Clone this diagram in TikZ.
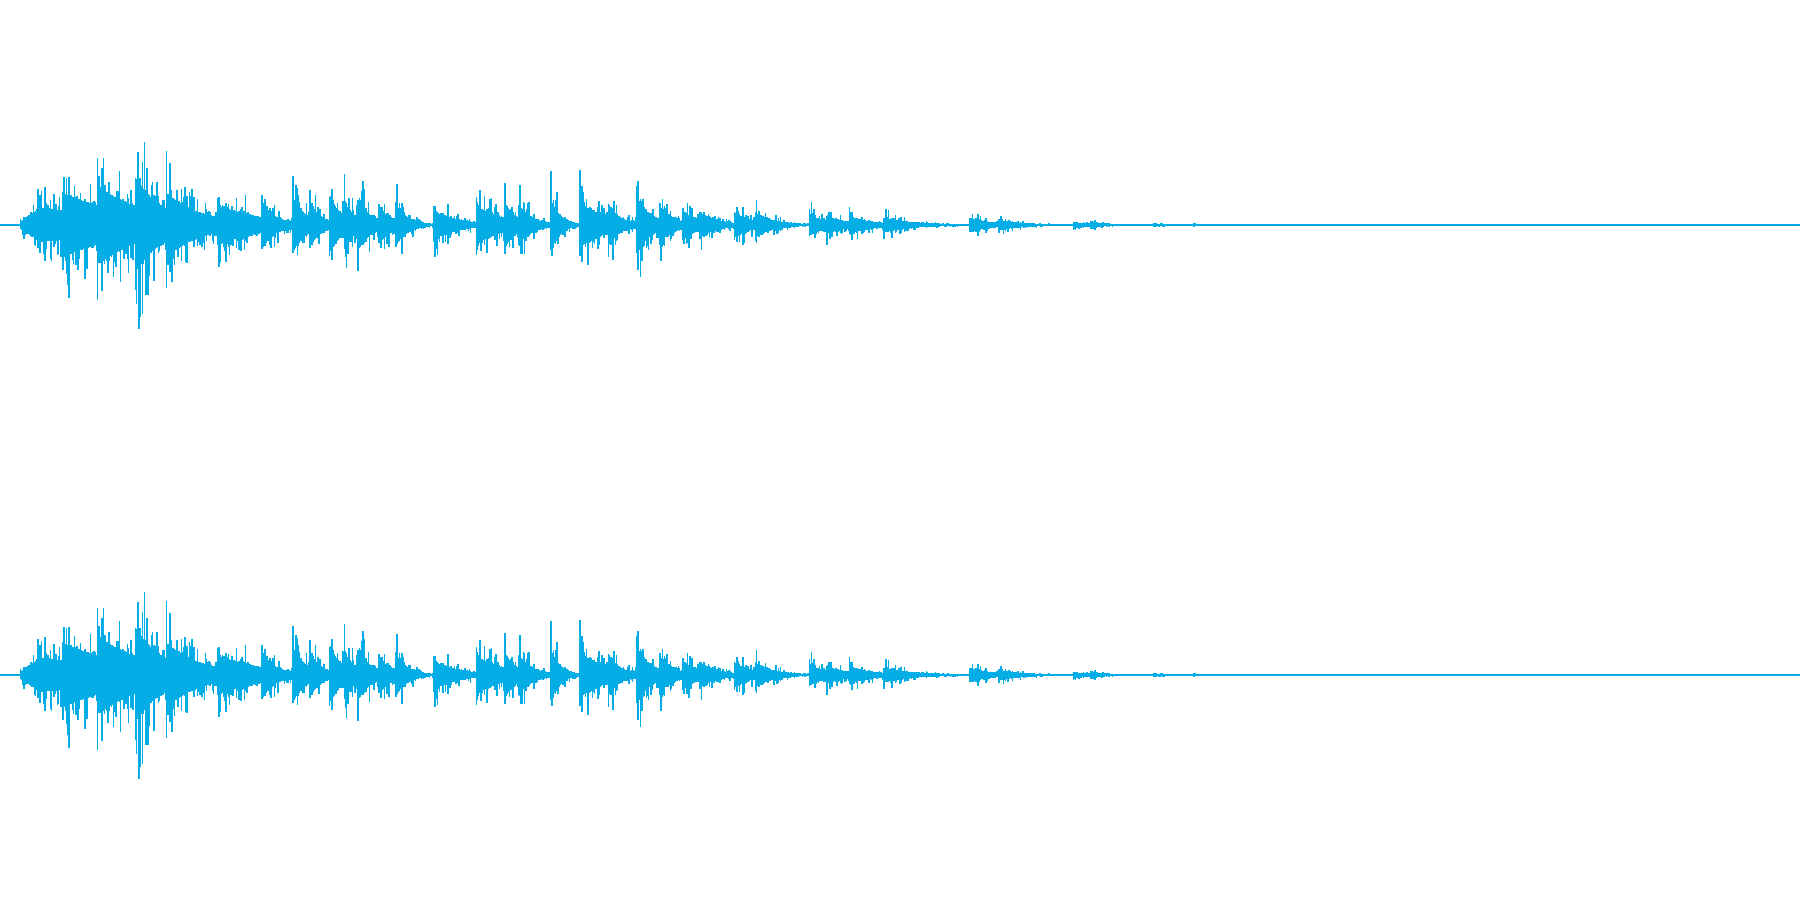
\documentclass[tikz,border=0pt]{standalone}
\definecolor{wave}{HTML}{05ADE6}
\begin{document}
\begin{tikzpicture}[x=0.011480cm,y=-0.011480cm,wv/.style={draw=wave,line width=0.45pt}]
\useasboundingbox (0,0) rectangle (1568,784);
\fill[white] (0,0) rectangle (1568,784);
\pgfmathsetseed{7}
\draw[wv,line width=0.35pt] (0,196) -- (1568,196);
\draw[wv,line width=0.35pt] (0,588) -- (1568,588);
\foreach \x in {18,...,1050}{
  \gdef\e{0.3}
  \foreach \a/\b/\c in {18/30/90,55/46/60,85/56/45,118/68/25,145/46/30,190/28/40,210/22/20,228/34/12,255/38/12,270/32/10,287/40/12,300/34/10,312/36/12,330/26/12,345/30/10,378/24/10,384/16/20,415/36/8,420/22/25,440/32/10,452/28/12,480/36/8,505/32/25,530/30/10,555/40/12,575/26/12,595/20/15,610/18/15,640/18/15,658/18/15,705/15/15,720/12/20,740/12/20,770/10/25,845/9/20,870/7/20,935/4/12,950/5/10,1005/1.5/15,1040/1.5/6}{%
    \ifnum\x<\a\relax\else
      \pgfmathsetmacro\t{max(\e,\b*exp(-(\x-\a)/\c))}\global\let\e\t
    \fi}
  \pgfmathsetmacro\g{min(1,0.15+(\x-18)/22)}
  \pgfmathsetmacro\r{\g*\e*(0.6+0.9*rnd^4)+0.4}
  \pgfmathsetmacro\s{\g*\e*(0.6+0.9*rnd^4)+0.4}
  \draw[wv] (\x,196-\r) -- (\x,196+\s);
  \draw[wv] (\x,588-\r) -- (\x,588+\s);
}
\end{tikzpicture}
\end{document}
